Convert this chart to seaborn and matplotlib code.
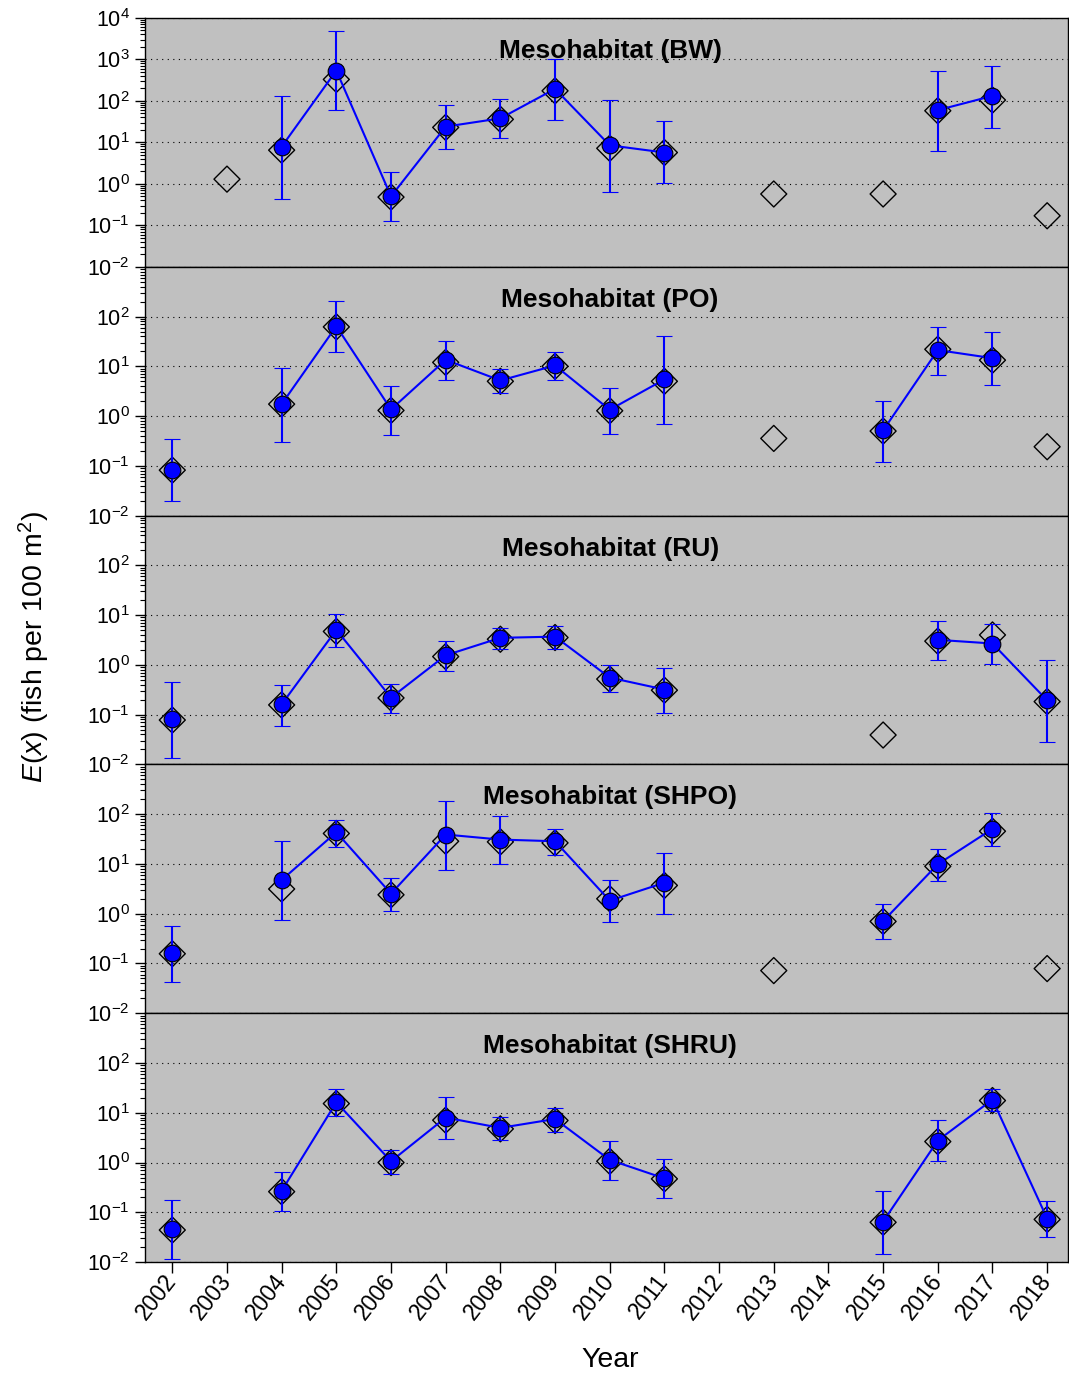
import numpy as np
import pandas as pd
import matplotlib
matplotlib.use("Agg")
import matplotlib.pyplot as plt
import seaborn as sns
from matplotlib.ticker import FixedLocator, FuncFormatter, LogLocator, NullFormatter

# ---------------------------------------------------------------- data
years = list(range(2002, 2019))
nan = np.nan

habitats = ["BW", "PO", "RU", "SHPO", "SHRU"]

# observed mean densities (open diamonds)
bw_obs = [nan, 1.3, 6.5, 330, 0.48, 23, 36, 175, 7.2, 5.7, nan, 0.57, nan, 0.57, 58, 105, 0.17]
po_obs = [0.082, nan, 1.74, 62, 1.3, 12, 5.0, 10, 1.28, 5.0, nan, 0.356, nan, 0.50, 22, 13.3, 0.242]
ru_obs = [0.078, nan, 0.157, 4.7, 0.217, 1.47, 3.28, 3.55, 0.52, 0.31, nan, nan, nan, 0.039, 3.0, 4.0, 0.183]
shpo_obs = [0.157, nan, 3.14, 41, 2.4, 28.6, 27.8, 26.5, 2.0, 3.7, nan, 0.072, nan, 0.70, 8.97, 45.5, 0.079]
shru_obs = [0.044, nan, 0.26, 15.3, 1.0, 7.1, 4.75, 7.0, 1.06, 0.47, nan, nan, nan, 0.063, 2.64, 17.6, 0.072]

# model estimates E(x) (filled circles)
bw_est = [nan, nan, 7.9, 540, 0.50, 24, 38, 195, 8.5, 5.7, nan, nan, nan, nan, 60, 132, nan]
po_est = [0.082, nan, 1.74, 64, 1.36, 13.5, 5.2, 10.4, 1.34, 5.45, nan, nan, nan, 0.515, 21.2, 14.6, nan]
ru_est = [0.080, nan, 0.161, 5.07, 0.22, 1.56, 3.5, 3.7, 0.556, 0.32, nan, nan, nan, nan, 3.19, 2.69, 0.194]
shpo_est = [0.164, nan, 4.76, 43.4, 2.53, 39, 30.9, 28.6, 1.83, 4.2, nan, nan, nan, 0.71, 9.85, 50.7, nan]
shru_est = [0.046, nan, 0.27, 16.3, 1.06, 8.0, 4.97, 7.5, 1.13, 0.48, nan, nan, nan, 0.065, 2.77, 18.4, 0.075]

# lower confidence limits
bw_lo = [nan, nan, 0.43, 60, 0.125, 6.8, 12.7, 34, 0.62, 1.04, nan, nan, nan, nan, 6.2, 22.6, nan]
po_lo = [0.020, nan, 0.30, 19.3, 0.42, 5.4, 2.85, 5.2, 0.44, 0.68, nan, nan, nan, 0.121, 6.8, 4.2, nan]
ru_lo = [0.0136, nan, 0.059, 2.34, 0.106, 0.76, 2.13, 2.13, 0.286, 0.106, nan, nan, nan, nan, 1.24, 1.06, 0.028]
shpo_lo = [0.043, nan, 0.76, 22, 1.15, 7.7, 10, 15.2, 0.67, 1.0, nan, nan, nan, 0.31, 4.55, 23, nan]
shru_lo = [0.0114, nan, 0.107, 8.7, 0.60, 3.0, 2.81, 4.1, 0.44, 0.19, nan, nan, nan, 0.0148, 1.06, 11.1, 0.032]

# upper confidence limits
bw_hi = [nan, nan, 132, 4750, 1.9, 79, 110, 1020, 108, 32, nan, nan, nan, nan, 540, 690, nan]
po_hi = [0.345, nan, 9.1, 204, 4.07, 32.6, 8.7, 19.6, 3.7, 41, nan, nan, nan, 2.03, 60.5, 48.7, nan]
ru_hi = [0.46, nan, 0.40, 10.5, 0.41, 3.04, 5.47, 6.1, 1.0, 0.857, nan, nan, nan, nan, 7.8, 6.5, 1.24]
shpo_hi = [0.57, nan, 29, 78, 5.2, 180, 91, 50, 4.76, 16.9, nan, nan, nan, 1.57, 20, 104, nan]
shru_hi = [0.178, nan, 0.66, 29.7, 1.8, 20.6, 8.1, 12.5, 2.72, 1.2, nan, nan, nan, 0.265, 7.0, 29.7, 0.17]

observed = [bw_obs, po_obs, ru_obs, shpo_obs, shru_obs]
estimate = [bw_est, po_est, ru_est, shpo_est, shru_est]
lower = [bw_lo, po_lo, ru_lo, shpo_lo, shru_lo]
upper = [bw_hi, po_hi, ru_hi, shpo_hi, shru_hi]

# ---------------------------------------------------------------- style
sns.set_style("ticks", rc={
    "axes.facecolor": "#C0C0C0",
    "axes.edgecolor": "black",
    "text.color": "black",
    "axes.labelcolor": "black",
    "xtick.color": "black",
    "ytick.color": "black",
})
plt.rcParams["font.family"] = ["Liberation Sans", "DejaVu Sans"]
plt.rcParams["mathtext.fontset"] = "custom"
plt.rcParams["mathtext.rm"] = "Liberation Sans"
plt.rcParams["mathtext.it"] = "Liberation Sans:italic"
plt.rcParams["mathtext.bf"] = "Liberation Sans:bold"

fig, axes = plt.subplots(5, 1, figsize=(10.69, 13.73), dpi=100, sharex=True)
fig.subplots_adjust(left=0.1356, right=0.9990, top=0.9869, bottom=0.0808, hspace=0)

decade_fmt = FuncFormatter(lambda v, p: r"$\mathregular{10^{%d}}$" % int(round(np.log10(v))))

for i, (ax, hab) in enumerate(zip(axes, habitats)):
    df = pd.DataFrame({
        "year": years,
        "obs": observed[i],
        "est": estimate[i],
        "lo": lower[i],
        "hi": upper[i],
    })

    # observed values: open diamonds
    sns.scatterplot(data=df.dropna(subset=["obs"]), x="year", y="obs", ax=ax,
                    marker="D", s=175, facecolor="none", edgecolor="black",
                    linewidth=1.0, zorder=2, legend=False)

    # estimates with confidence intervals, connected in consecutive years
    est = df["est"].to_numpy()
    yerr = np.vstack([est - df["lo"].to_numpy(), df["hi"].to_numpy() - est])
    ax.errorbar(df["year"], est, yerr=yerr, fmt="-o", color="#0000FF",
                mfc="#0000FF", mec="black", mew=0.8, ms=12, lw=1.5,
                elinewidth=1.5, capsize=5.5, capthick=1.5, zorder=3)

    ax.set_yscale("log")
    top_exp = 4 if i == 0 else 3
    label_top = 4 if i == 0 else 2
    ax.set_ylim(1e-2, 10.0 ** top_exp)
    ax.yaxis.set_major_locator(FixedLocator([10.0 ** k for k in range(-2, label_top + 1)]))
    ax.yaxis.set_major_formatter(decade_fmt)
    ax.yaxis.set_minor_locator(LogLocator(base=10, subs=np.arange(2, 10), numticks=30))
    ax.yaxis.set_minor_formatter(NullFormatter())
    ax.grid(axis="y", which="major", linestyle=(0, (1, 4)), color="black", linewidth=0.8)
    ax.set_axisbelow(True)

    ax.tick_params(axis="y", which="major", direction="out", length=7, width=1,
                   labelsize=15.5, left=True, right=False, pad=4)
    ax.tick_params(axis="y", which="minor", direction="out", length=3.5, width=0.8,
                   left=True, right=False)
    for sp in ax.spines.values():
        sp.set_visible(True)
        sp.set_linewidth(1.0)
        sp.set_color("black")

    ax.set_xlabel("")
    ax.set_ylabel("")
    ax.text(0.504, 1 - 33 / 248.8, f"Mesohabitat ({hab})", transform=ax.transAxes,
            ha="center", va="center", fontsize=19, fontweight="bold", zorder=5)

    if i < len(axes) - 1:
        ax.tick_params(axis="x", which="both", bottom=False, labelbottom=False)

ax = axes[-1]
ax.set_xlim(2001.5, 2018.38)
ax.set_xticks(years)
ax.set_xticklabels([str(y) for y in years], rotation=52, ha="right", va="center",
                   rotation_mode="anchor")
ax.tick_params(axis="x", which="major", direction="out", length=8, width=1,
               labelsize=16.5, bottom=True, pad=3)
ax.tick_params(axis="x", which="minor", bottom=False)

fig.text(610 / 1069, 1 - 1360 / 1373, "Year", fontsize=20.5, ha="center", va="center")
fig.text(34 / 1069, 1 - 647 / 1373, r"$E$($x$) (fish per 100 m$^2$)", rotation=90,
         fontsize=20.5, ha="center", va="center")

fig.savefig("out.png", dpi=100, facecolor="white")
